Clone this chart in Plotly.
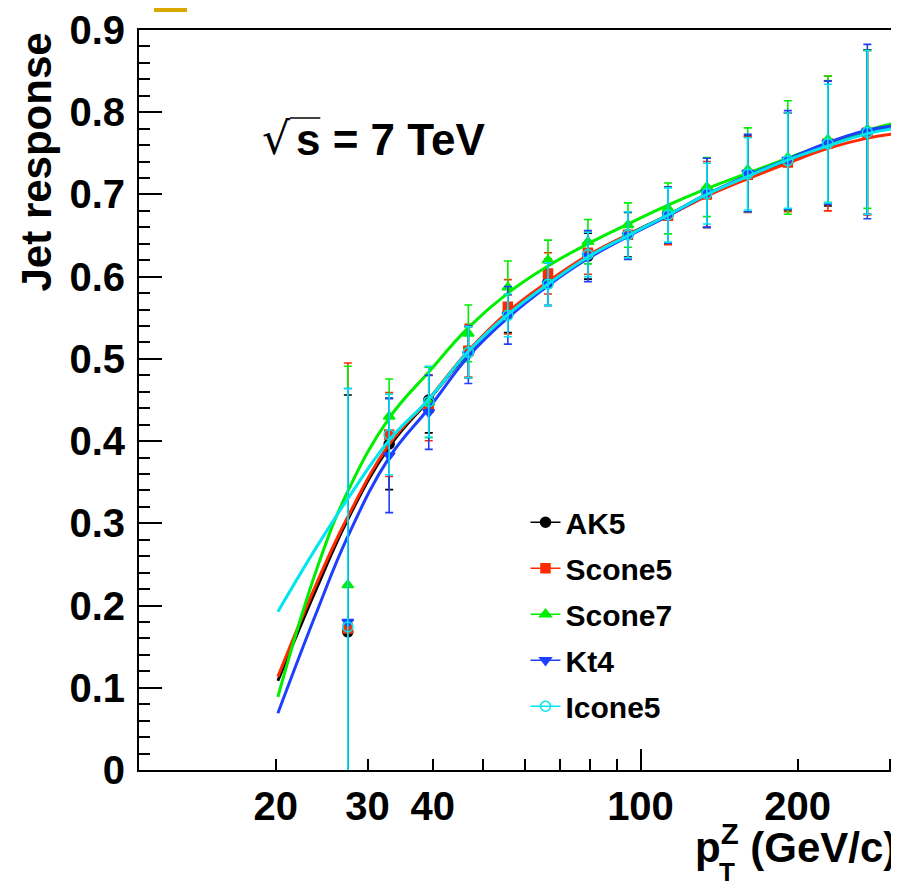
import plotly.graph_objects as go

# pT(Z) bin centres (GeV/c)
pt_bins = [27.5, 33.0, 39.3, 46.8, 55.7, 66.5, 79.3, 94.6, 112.9, 134.0, 160.5, 191.5, 228.5, 272.0]

ak5_resp = [0.168, 0.3965, 0.450, 0.508, 0.555, 0.593, 0.625, 0.651, 0.675, 0.702, 0.725, 0.740, 0.762, 0.776]
ak5_err = [0.288, 0.0555, 0.040, 0.031, 0.023, 0.028, 0.028, 0.027, 0.034, 0.042, 0.046, 0.059, 0.076, 0.100]

scone5_resp = [0.172, 0.408, 0.4405, 0.510, 0.5634, 0.604, 0.629, 0.651, 0.674, 0.700, 0.724, 0.739, 0.762, 0.775]
scone5_err = [0.323, 0.051, 0.040, 0.032, 0.033, 0.025, 0.026, 0.028, 0.035, 0.040, 0.046, 0.060, 0.082, 0.100]

scone7_resp = [0.225, 0.430, 0.447, 0.531, 0.587, 0.620, 0.6425, 0.6628, 0.683, 0.709, 0.730, 0.745, 0.767, 0.779]
scone7_err = [0.266, 0.0455, 0.043, 0.0345, 0.032, 0.0245, 0.027, 0.027, 0.031, 0.036, 0.051, 0.069, 0.077, 0.096]

kt4_resp = [0.180, 0.3825, 0.435, 0.505, 0.553, 0.591, 0.625, 0.650, 0.675, 0.702, 0.726, 0.742, 0.763, 0.7765]
kt4_err = [0.284, 0.0695, 0.045, 0.035, 0.035, 0.026, 0.031, 0.029, 0.034, 0.042, 0.047, 0.060, 0.075, 0.106]

icone5_resp = [0.174, 0.408, 0.448, 0.508, 0.553, 0.591, 0.627, 0.651, 0.675, 0.701, 0.725, 0.741, 0.762, 0.7755]
icone5_err = [0.290, 0.049, 0.043, 0.031, 0.026, 0.026, 0.027, 0.028, 0.033, 0.037, 0.044, 0.058, 0.072, 0.0995]

# fitted response curves
fit_pt = [20.2, 24.0, 27.5, 33.0, 39.3, 46.8, 55.7, 66.5, 79.3, 94.6, 112.9, 134.0, 160.5, 191.5, 228.5, 272.0, 304.0]
ak5_fit = [0.1086, 0.222, 0.305, 0.393, 0.450, 0.508, 0.555, 0.592, 0.625, 0.651, 0.675, 0.700, 0.722, 0.741, 0.760, 0.775, 0.781]
scone5_fit = [0.1135, 0.228, 0.308, 0.396, 0.451, 0.510, 0.557, 0.594, 0.626, 0.651, 0.674, 0.698, 0.719, 0.738, 0.756, 0.7685, 0.7734]
scone7_fit = [0.089, 0.245, 0.339, 0.428, 0.484, 0.538, 0.580, 0.613, 0.640, 0.664, 0.687, 0.707, 0.726, 0.744, 0.762, 0.778, 0.786]
kt4_fit = [0.069, 0.193, 0.284, 0.380, 0.440, 0.503, 0.550, 0.589, 0.622, 0.649, 0.674, 0.700, 0.723, 0.743, 0.763, 0.778, 0.783]
icone5_fit = [0.1925, 0.272, 0.330, 0.401, 0.451, 0.509, 0.554, 0.591, 0.624, 0.650, 0.675, 0.700, 0.722, 0.742, 0.759, 0.774, 0.780]

x_tickvals = [20, 30, 40, 50, 60, 70, 80, 90, 100, 200, 300]
x_ticktext = ["20", "30", "40", "", "", "", "", "", "100", "200", ""]
y_tickvals = [0, 0.1, 0.2, 0.3, 0.4, 0.5, 0.6, 0.7, 0.8, 0.9]
y_ticktext = ["0", "0.1", "0.2", "0.3", "0.4", "0.5", "0.6", "0.7", "0.8", "0.9"]

FONT = "Liberation Sans, Arial, Helvetica, sans-serif"

series = [
    ("AK5", ak5_resp, ak5_err, ak5_fit, "#000000", "circle", 10),
    ("Scone5", scone5_resp, scone5_err, scone5_fit, "#ff2a00", "square", 9),
    ("Scone7", scone7_resp, scone7_err, scone7_fit, "#00ee00", "triangle-up", 10),
    ("Kt4", kt4_resp, kt4_err, kt4_fit, "#1f3fff", "triangle-down", 10),
    ("Icone5", icone5_resp, icone5_err, icone5_fit, "#00e5f0", "circle-open", 10),
]

fig = go.Figure()

for name, resp, err, fit, col, sym, msize in series:
    fig.add_trace(go.Scatter(
        x=pt_bins, y=resp, mode="markers", showlegend=False,
        marker=dict(symbol=sym, size=msize, color=col, line=dict(color=col, width=1.5)),
        error_y=dict(type="data", array=err, color=col, thickness=1.6, width=4),
    ))
    fig.add_trace(go.Scatter(
        x=fit_pt, y=fit, mode="lines", showlegend=False,
        line=dict(color=col, width=3, shape="spline", smoothing=1.2),
    ))

# legend entries (line + marker)
for name, resp, err, fit, col, sym, msize in series:
    fig.add_trace(go.Scatter(
        x=[None], y=[None], mode="lines+markers", name=name, legendgroup=name,
        marker=dict(symbol=sym, size=msize, color=col, line=dict(color=col, width=1.5)),
        line=dict(color=col, width=1.5),
    ))

# helper trace for the long tick at 100
fig.add_trace(go.Scatter(x=[None], y=[None], xaxis="x2", showlegend=False, hoverinfo="skip"))

xr = [1.0393, 2.4837]

fig.update_layout(
    width=899, height=887,
    margin=dict(l=131, r=14, t=22, b=125),
    paper_bgcolor="white", plot_bgcolor="white",
    font=dict(family=FONT, color="black"),
    xaxis=dict(
        type="log", range=xr, tickvals=x_tickvals, ticktext=x_ticktext,
        ticks="inside", ticklen=11, tickwidth=1.5, tickcolor="black",
        showgrid=False, zeroline=False, automargin=False,
        showline=True, linecolor="black", linewidth=2, mirror=True,
        tickfont=dict(size=40, family=FONT, weight="bold"),
    ),
    xaxis2=dict(
        type="log", range=xr, overlaying="x", anchor="y", side="bottom",
        tickvals=[100], ticks="inside", ticklen=21, tickwidth=1.5, tickcolor="black",
        showticklabels=False, showgrid=False, zeroline=False, showline=False,
        automargin=False,
    ),
    yaxis=dict(
        range=[0, 0.9], tickvals=y_tickvals, ticktext=y_ticktext,
        ticks="inside", ticklen=23, tickwidth=1.5, tickcolor="black",
        minor=dict(dtick=0.02, ticks="inside", ticklen=11, tickwidth=1.5, tickcolor="black"),
        showgrid=False, zeroline=False, automargin=False,
        showline=True, linecolor="black", linewidth=2, mirror=True,
        tickfont=dict(size=40, family=FONT, weight="bold"),
        ticklabelstandoff=4,
    ),
    legend=dict(
        x=0.5126, y=0.370, xanchor="left", yanchor="top",
        bgcolor="rgba(0,0,0,0)", borderwidth=0,
        font=dict(size=30, family=FONT, weight="bold"),
        tracegroupgap=4,
    ),
)

# axis titles, ROOT style (right / top aligned)
fig.add_annotation(
    text="Jet response", textangle=-90, xref="paper", yref="paper",
    x=-0.1353, y=1.0, xanchor="center", yanchor="top", showarrow=False,
    font=dict(size=42, family=FONT, weight="bold"),
)
fig.add_annotation(
    text="p<sup>Z</sup> (GeV/c)", xref="paper", yref="paper",
    x=1.008, y=-0.1, xanchor="right", yanchor="middle", showarrow=False,
    font=dict(size=42, family=FONT, weight="bold"),
)
fig.add_annotation(
    text="T", xref="paper", yref="paper",
    x=0.7805, y=-0.138, xanchor="center", yanchor="middle", showarrow=False,
    font=dict(size=26, family=FONT, weight="bold"),
)

# sqrt(s) label
fig.add_annotation(
    text="\u221a", xref="paper", yref="paper",
    x=0.2036, y=0.853, xanchor="right", yanchor="middle", showarrow=False,
    font=dict(size=44, family="DejaVu Sans"),
)
fig.add_annotation(
    text="s = 7 TeV", xref="paper", yref="paper",
    x=0.2056, y=0.852, xanchor="left", yanchor="middle", showarrow=False,
    font=dict(size=44, family=FONT, weight="bold"),
)
fig.add_shape(type="line", xref="paper", yref="paper",
              x0=0.2, x1=0.2405, y0=0.8811, y1=0.8811,
              line=dict(color="black", width=1.5))

# small coloured tab at the top edge
fig.add_shape(type="rect", xref="paper", yref="paper",
              x0=0.0199, x1=0.0637, y0=1.0243, y1=1.0405,
              fillcolor="#d9a800", line=dict(width=0))

fig.write_html("out.html")
